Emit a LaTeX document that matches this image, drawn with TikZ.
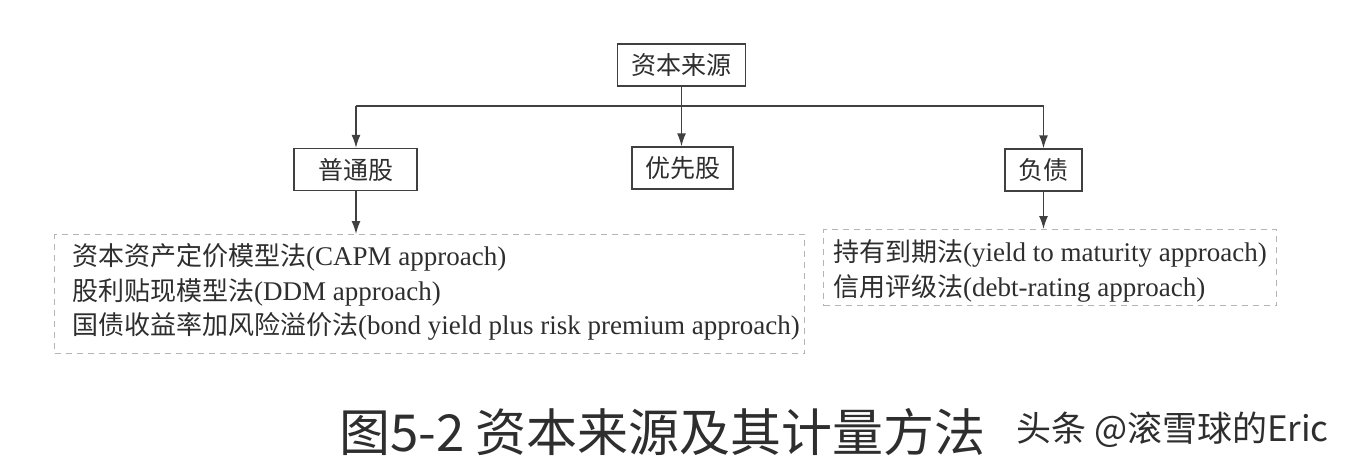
\documentclass[tikz,border=0pt]{standalone}
\usepackage{fontspec}
\setmainfont{Liberation Serif}
\newfontfamily\cjk{Noto Sans CJK SC}
\usetikzlibrary{arrows.meta}
\definecolor{ink}{HTML}{2E2E2E}
\definecolor{lineC}{HTML}{404040}
\definecolor{dashC}{HTML}{B4B4B4}
\begin{document}
\begin{tikzpicture}[x=1pt,y=-1pt,
  box/.style={draw=lineC,line width=1.4pt,text=ink,inner sep=0pt,
    minimum height=42pt,font=\cjk\fontsize{25}{30}\selectfont},
  dbox/.style={draw=dashC,line width=1pt,dash pattern=on 6pt off 5pt,
    inner sep=0pt,anchor=north west},
  lst/.style={anchor=west,inner sep=0pt,text=ink,font=\fontsize{27}{30}\selectfont},
  conn/.style={draw=lineC,line width=1.4pt},
  arr/.style={conn,-{Latex[length=13pt,width=9pt]}}]
\useasboundingbox (0,0) rectangle (1346,460);
\fill[white] (0,0) rectangle (1346,460);
% boxes
\node[box,minimum width=128pt] (src) at (681.5,65) {资本来源};
\node[box,minimum width=123pt] (ptg) at (355.5,169.5) {普通股};
\node[box,minimum width=101pt] (yxg) at (682.5,168) {优先股};
\node[box,minimum width=77pt] (fz) at (1043.5,170) {负债};
% dashed boxes
\node[dbox,minimum width=750pt,minimum height=119pt] (lb) at (54,234) {};
\node[dbox,minimum width=453pt,minimum height=76pt] (rb) at (823,229) {};
% texts
\node[lst] (l1) at (72,257) {{\cjk\fontsize{26}{30}\selectfont 资本资产定价模型法}(CAPM approach)};
\node[lst] (l2) at (72,292) {{\cjk\fontsize{26}{30}\selectfont 股利贴现模型法}(DDM approach)};
\node[lst] (l3) at (72,326) {{\cjk\fontsize{26}{30}\selectfont 国债收益率加风险溢价法}(bond yield plus risk premium approach)};
\node[lst] (r1) at (833,253) {{\cjk\fontsize{26}{30}\selectfont 持有到期法}(yield to maturity approach)};
\node[lst] (r2) at (833,288) {{\cjk\fontsize{26}{30}\selectfont 信用评级法}(debt-rating approach)};
% connectors
\coordinate (hl) at (356,106);
\coordinate (hr) at (1043.5,106);
\draw[conn] (src.south) -- (src.south |- hl);
\draw[conn] (hl) -- (hr);
\draw[arr] (hl) -- (ptg.north -| hl);
\draw[arr] (src.south |- hl) -- (yxg.north -| src.south);
\draw[arr] (hr) -- (fz.north -| hr);
\draw[arr] (ptg.south -| hl) -- (lb.north -| hl);
\draw[arr] (fz.south -| hr) -- (rb.north -| hr);
% caption
\node[anchor=west,inner sep=0pt,text=ink,font=\cjk\fontsize{51}{60}\selectfont] (cap) at (339,432) {图5-2 资本来源及其计量方法};
\node[anchor=west,inner sep=0pt,text=ink,font=\cjk\fontsize{35}{40}\selectfont] (wm) at (1016,430) {头条 @滚雪球的Eric};
\end{tikzpicture}
\end{document}
